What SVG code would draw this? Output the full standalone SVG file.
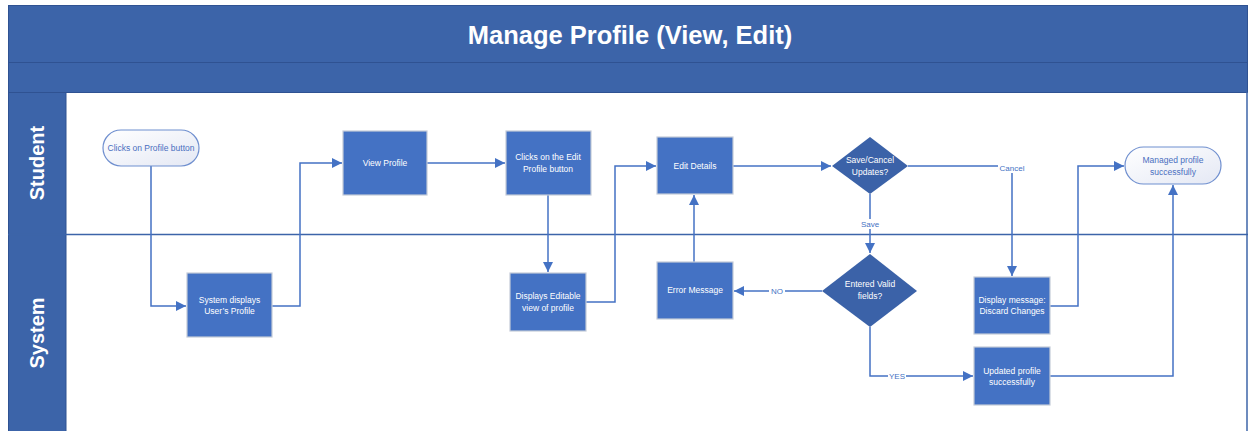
<svg xmlns="http://www.w3.org/2000/svg" width="1249" height="431" viewBox="0 0 1249 431">
<style>
.band{fill:#3c64a9;stroke:#2f5292;stroke-width:1}
.lane{fill:#3c64a9;stroke:#2f5292;stroke-width:1}
.title{font-family:"Liberation Sans",Arial,sans-serif;font-weight:bold;font-size:25.5px;fill:#fff;text-anchor:middle}
.lanelbl{font-family:"Liberation Sans",Arial,sans-serif;font-weight:bold;font-size:20px;fill:#fff;text-anchor:middle}
.box{fill:#4472c4;stroke:#c4cbd8;stroke-width:1.2}
.dia{fill:#3b62a8;stroke:none}
.term{fill:url(#tg);stroke:#6f8fcf;stroke-width:1.2}
.t{font-family:"Liberation Sans",Arial,sans-serif;font-size:8.5px;fill:#fff;text-anchor:middle}
.tt{font-family:"Liberation Sans",Arial,sans-serif;font-size:8.5px;fill:#4a6fc0;text-anchor:middle}
.c{fill:none;stroke:#4472c4;stroke-width:1.5}
.lbl{font-family:"Liberation Sans",Arial,sans-serif;font-size:8px;fill:#4472c4;text-anchor:middle}
.lblbg{fill:#fff}
</style>
<defs>
<linearGradient id="tg" x1="0" y1="0" x2="1" y2="1">
<stop offset="0" stop-color="#ffffff"/>
<stop offset="1" stop-color="#e4e8f4"/>
</linearGradient>
<marker id="ah" viewBox="0 0 10 10" refX="10" refY="5" markerWidth="10" markerHeight="10" markerUnits="userSpaceOnUse" orient="auto">
<path d="M0,0 L10,5 L0,10 z" fill="#4472c4"/>
</marker>
</defs>
<rect x="0" y="0" width="1249" height="431" fill="#fff"/>
<g id="frame">
<rect x="8.5" y="5.5" width="1239" height="57" class="band"/>
<rect x="8.5" y="62.5" width="1239" height="30" class="band"/>
<rect x="8.5" y="92.5" width="57.5" height="142" class="lane"/>
<rect x="8.5" y="234.5" width="57.5" height="200" class="lane"/>
<line x1="1247" y1="92" x2="1247" y2="431" stroke="#3c64a9" stroke-width="1.5"/>
<line x1="8" y1="234.5" x2="1248" y2="234.5" stroke="#3c64a9" stroke-width="1.5"/>
<text x="630" y="44" class="title">Manage Profile (View, Edit)</text>
<text transform="translate(44,163) rotate(-90)" class="lanelbl">Student</text>
<text transform="translate(44,333) rotate(-90)" class="lanelbl">System</text>
</g>
<g id="connectors">
<path class="c" d="M151,166 V306 H186" marker-end="url(#ah)"/>
<path class="c" d="M272,306 H300 V163 H342" marker-end="url(#ah)"/>
<path class="c" d="M427,163 H505" marker-end="url(#ah)"/>
<path class="c" d="M548,195 V272" marker-end="url(#ah)"/>
<path class="c" d="M586,302 H615 V166 H656" marker-end="url(#ah)"/>
<path class="c" d="M694,262 V195" marker-end="url(#ah)"/>
<path class="c" d="M733,166 H831" marker-end="url(#ah)"/>
<path class="c" d="M908,166 H1012 V276" marker-end="url(#ah)"/>
<path class="c" d="M870,194 V253" marker-end="url(#ah)"/>
<path class="c" d="M822,291 H734" marker-end="url(#ah)"/>
<path class="c" d="M870,327 V376 H973" marker-end="url(#ah)"/>
<path class="c" d="M1050,306 H1078 V166 H1124" marker-end="url(#ah)"/>
<path class="c" d="M1050,376 H1173 V185" marker-end="url(#ah)"/>
<rect x="998" y="163" width="28" height="10" class="lblbg"/>
<text x="1012" y="171" class="lbl">Cancel</text>
<rect x="859" y="219" width="22" height="10" class="lblbg"/>
<text x="870" y="227" class="lbl">Save</text>
<rect x="769" y="286" width="16" height="10" class="lblbg"/>
<text x="777" y="294" class="lbl">NO</text>
<rect x="888" y="371" width="18" height="10" class="lblbg"/>
<text x="897" y="379" class="lbl">YES</text>
</g>
<g id="n-clicks-profile">
<rect x="103" y="130" width="96" height="36" rx="18" class="term"/>
<text x="151" y="151" class="tt">Clicks on Profile button</text>
</g>
<g id="n-view-profile">
<rect x="343" y="131" width="84" height="64" class="box"/>
<text x="385" y="166" class="t">View Profile</text>
</g>
<g id="n-clicks-edit">
<rect x="506" y="131" width="85" height="64" class="box"/>
<text x="548" y="160" class="t">Clicks on the Edit</text>
<text x="548" y="172" class="t">Profile button</text>
</g>
<g id="n-edit-details">
<rect x="657" y="137" width="76" height="57" class="box"/>
<text x="695" y="169" class="t">Edit Details</text>
</g>
<g id="n-save-cancel">
<polygon points="870,137 908,166 870,194 832,166" class="dia"/>
<text x="870" y="163" class="t">Save/Cancel</text>
<text x="870" y="175" class="t">Updates?</text>
</g>
<g id="n-managed">
<rect x="1125" y="147" width="96" height="37" rx="18.5" class="term"/>
<text x="1173" y="163" class="tt">Managed profile</text>
<text x="1173" y="175" class="tt">successfully</text>
</g>
<g id="n-system-displays">
<rect x="187" y="273" width="85" height="64" class="box"/>
<text x="229.5" y="303" class="t">System displays</text>
<text x="229.5" y="314" class="t">User’s Profile</text>
</g>
<g id="n-displays-editable">
<rect x="510" y="273" width="76" height="58" class="box"/>
<text x="548" y="299" class="t">Displays Editable</text>
<text x="548" y="311" class="t">view of profile</text>
</g>
<g id="n-error">
<rect x="657" y="262" width="76" height="57" class="box"/>
<text x="695" y="293" class="t">Error Message</text>
</g>
<g id="n-entered-valid">
<polygon points="870,254 917,291 870,327 822,291" class="dia"/>
<text x="870" y="287" class="t">Entered Valid</text>
<text x="870" y="299" class="t">fields?</text>
</g>
<g id="n-discard">
<rect x="974" y="277" width="76" height="57" class="box"/>
<text x="1012" y="303" class="t">Display message:</text>
<text x="1012" y="314" class="t">Discard Changes</text>
</g>
<g id="n-updated">
<rect x="974" y="347" width="76" height="58" class="box"/>
<text x="1012" y="374" class="t">Updated profile</text>
<text x="1012" y="385" class="t">successfully</text>
</g>
</svg>
